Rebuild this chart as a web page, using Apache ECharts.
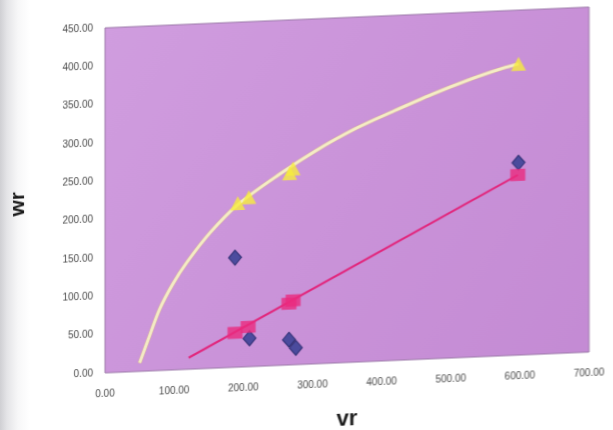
<!DOCTYPE html>
<html>
<head>
<meta charset="utf-8">
<title>wr vs vr</title>
<script src="https://cdn.jsdelivr.net/npm/echarts@6/dist/echarts.min.js"></script>
<style>
  html, body { margin: 0; padding: 0; width: 613px; height: 430px; overflow: hidden; }
  body { background: linear-gradient(to right, #cfcfd3 0px, #e4e4e7 7px, #f7f7f8 18px, #ffffff 30px); }
  /* the printed page sits at a slight slant */
  #chart { width: 613px; height: 470px; transform: skewY(-2.46deg); transform-origin: 102px 0; }
</style>
</head>
<body>
<div id="chart"></div>
<script>
// Blue diamonds
const diamondX = [188, 209, 266, 276, 598];
const diamondY = [143, 37, 33, 22, 251];
// Pink squares
const squareX = [188, 207, 266, 272, 597];
const squareY = [45, 52, 80, 84, 235];
// Yellow triangles
const triangleX = [192, 208, 267, 272, 598];
const triangleY = [214, 221, 250, 256, 380];
// Linear trend through the squares (end points)
const pinkTrendX = [121, 597];
const pinkTrendY = [15, 235];
// Curved trend through the triangles (points along the curve)
const yellowTrendX = [50, 62, 79, 98, 118, 152, 192, 250, 305, 361, 417, 473, 530, 575, 598];
const yellowTrendY = [11, 40, 80, 112, 139, 177, 212, 248, 278, 304, 325, 345, 363, 375, 380];
// Axis ranges and tick steps
const xRange = [0, 700, 100];
const yRange = [0, 450, 50];

const pairs = (xs, ys) => xs.map((x, i) => [x, ys[i]]);
const fmt = v => v.toFixed(2);

const chart = echarts.init(document.getElementById('chart'), null, { renderer: 'canvas' });
chart.setOption({
  animation: false,
  textStyle: { fontFamily: 'Liberation Sans, Arial, sans-serif' },
  grid: {
    left: 102, top: 28, width: 487, height: 345,
    show: true,
    backgroundColor: {
      type: 'linear', x: 0, y: 0, x2: 1, y2: 1,
      colorStops: [
        { offset: 0, color: '#d09ddf' },
        { offset: 0.5, color: '#ca93d9' },
        { offset: 1, color: '#c48bd4' }
      ]
    },
    borderColor: '#9c7aa9',
    borderWidth: 1
  },
  xAxis: {
    type: 'value', min: xRange[0], max: xRange[1], interval: xRange[2],
    name: 'vr', nameLocation: 'middle', nameGap: 46,
    nameTextStyle: { fontSize: 22, fontWeight: 'bold', color: '#1a1a1a' },
    axisLine: { show: false }, axisTick: { show: false }, splitLine: { show: false },
    axisLabel: { formatter: fmt, margin: 16, fontSize: 10, color: '#4a4a4a' }
  },
  yAxis: {
    type: 'value', min: yRange[0], max: yRange[1], interval: yRange[2],
    name: 'wr', nameLocation: 'middle', nameGap: 76, nameRotate: 90,
    nameTextStyle: { fontSize: 21, fontWeight: 'bold', color: '#1a1a1a' },
    axisLine: { show: false }, axisTick: { show: false }, splitLine: { show: false },
    axisLabel: { formatter: fmt, margin: 12, fontSize: 10, color: '#4a4a4a' }
  },
  series: [
    {
      name: 'trend-yellow', type: 'line', data: pairs(yellowTrendX, yellowTrendY),
      smooth: 0.3, showSymbol: false, z: 2,
      lineStyle: { color: '#f4ecc6', width: 3, shadowColor: 'rgba(230,200,60,0.8)', shadowBlur: 1 }
    },
    {
      name: 'trend-pink', type: 'line', data: pairs(pinkTrendX, pinkTrendY),
      showSymbol: false, z: 2,
      lineStyle: { color: '#e2267c', width: 2 }
    },
    {
      name: 'diamonds', type: 'scatter', data: pairs(diamondX, diamondY),
      symbol: 'diamond', symbolSize: [13, 15], z: 3,
      itemStyle: { color: '#2c3a8e', borderColor: '#1c2262', borderWidth: 1 }
    },
    {
      name: 'squares', type: 'scatter', data: pairs(squareX, squareY),
      symbol: 'rect', symbolSize: [15, 12], z: 4,
      itemStyle: { color: '#ea2a7e' }
    },
    {
      name: 'triangles', type: 'scatter', data: pairs(triangleX, triangleY),
      symbol: 'triangle', symbolSize: [15, 14], z: 4,
      itemStyle: { color: '#f6ec3c' }
    }
  ]
});
</script>
</body>
</html>
